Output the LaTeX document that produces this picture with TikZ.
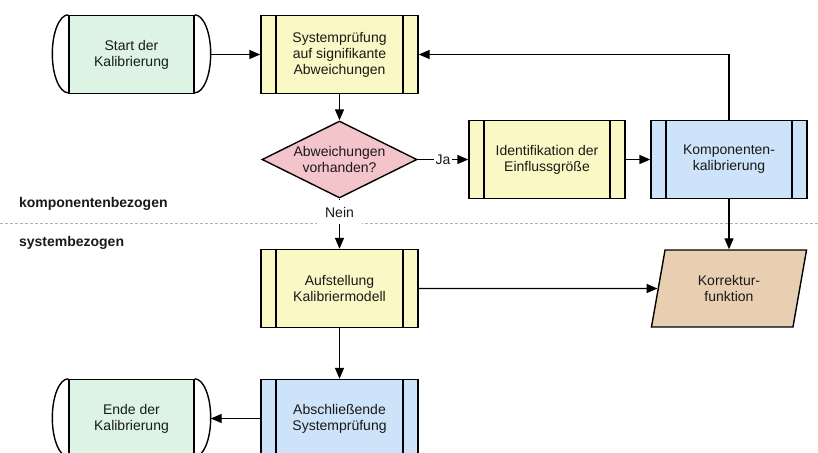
\documentclass[tikz,border=0pt]{standalone}
\usepackage{fontspec}
\setmainfont{Liberation Sans}
\usetikzlibrary{arrows.meta, shapes.geometric}

\definecolor{gruen}{HTML}{DDF4E4}
\definecolor{gelb}{HTML}{FAF8C4}
\definecolor{blau}{HTML}{CCE3F9}
\definecolor{rosa}{HTML}{F4C4CB}
\definecolor{braun}{HTML}{E9CFB2}

\begin{document}
\begin{tikzpicture}[x=1pt, y=-1pt, line width=1.4pt,
    font=\fontsize{14}{16}\selectfont, text=black!90,
    proc/.style={draw, align=center, minimum width=157pt, minimum height=78pt,
        path picture={\draw[line width=1.4pt]
            ([xshift=15pt]path picture bounding box.north west) -- ([xshift=15pt]path picture bounding box.south west)
            ([xshift=-15pt]path picture bounding box.north east) -- ([xshift=-15pt]path picture bounding box.south east);}},
    term/.style={draw, fill=gruen, align=center, minimum width=125pt, minimum height=78pt},
    frage/.style={draw, fill=rosa, shape=diamond, aspect=2, inner sep=0pt, align=center,
        minimum width=155pt, minimum height=77pt},
    daten/.style={draw, fill=braun, shape=trapezium, trapezium left angle=77.5,
        trapezium right angle=102.5, trapezium stretches=true, align=center,
        minimum width=156pt, minimum height=77pt},
    pfeil/.style={-{Triangle[length=11pt, width=9pt]}},
    trenn/.style={draw=gray!60, line width=0.8pt, dash pattern=on 3pt off 2pt},
    bereich/.style={anchor=west, font=\fontsize{14}{16}\selectfont\bfseries}]
    \useasboundingbox (0,0) rectangle (818,452);

    % Draw dividing line
    \draw[trenn] (0,223) -- (818,223);
    \node[bereich] (kompbez) at (15,204) {komponentenbezogen};
    \node[bereich] (sysbez) at (15,243) {systembezogen};

    % Draw nodes
    \node[term] (start) at (131.5,54.5) {Start der\\Kalibrierung};
    \node[proc, fill=gelb] (pruef) at (339.5,54.5) {Systemprüfung\\auf signifikante\\Abweichungen};
    \node[frage] (frage) at (339.5,159.5) {Abweichungen\\vorhanden?};
    \node[proc, fill=gelb, minimum width=156pt] (ident) at (547,159.5) {Identifikation der\\Einflussgröße};
    \node[proc, fill=blau, minimum width=156pt] (komp) at (729,159.5) {Komponenten-\\kalibrierung};
    \node[proc, fill=gelb] (aufst) at (339.5,288.5) {Aufstellung\\Kalibriermodell};
    \node[daten] (korr) at (729,288.5) {Korrektur-\\funktion};
    \node[proc, fill=blau] (absch) at (339.5,418.5) {Abschließende\\Systemprüfung};
    \node[term] (ende) at (131.5,418.5) {Ende der\\Kalibrierung};

    % Round ends of start and end
    \foreach \n in {start, ende} {
        \draw (\n.north west) arc[start angle=90, end angle=270, x radius=16pt, y radius=39pt];
        \draw (\n.north east) arc[start angle=90, end angle=-90, x radius=16pt, y radius=39pt];
    }

    % Draw connections
    \draw[pfeil] ([xshift=16pt]start.east) -- (pruef.west);
    \draw[pfeil] (pruef) -- (frage);
    \draw[pfeil] (frage) -- node[fill=white, inner sep=1.5pt] {Ja} (ident);
    \draw[pfeil] (ident) -- (komp);
    \draw[pfeil] (komp.north) |- (pruef.east);
    \draw[pfeil] (komp) -- (korr);
    \draw[pfeil] (frage) -- node[pos=0.27, fill=white, inner xsep=8pt, inner ysep=7pt] (nein) {Nein} (aufst);
    \draw[pfeil] (aufst.east) -- (korr.west);
    \draw[pfeil] (aufst) -- (absch);
    \draw[pfeil] (absch.west) -- ([xshift=16pt]ende.east);
\end{tikzpicture}
\end{document}
